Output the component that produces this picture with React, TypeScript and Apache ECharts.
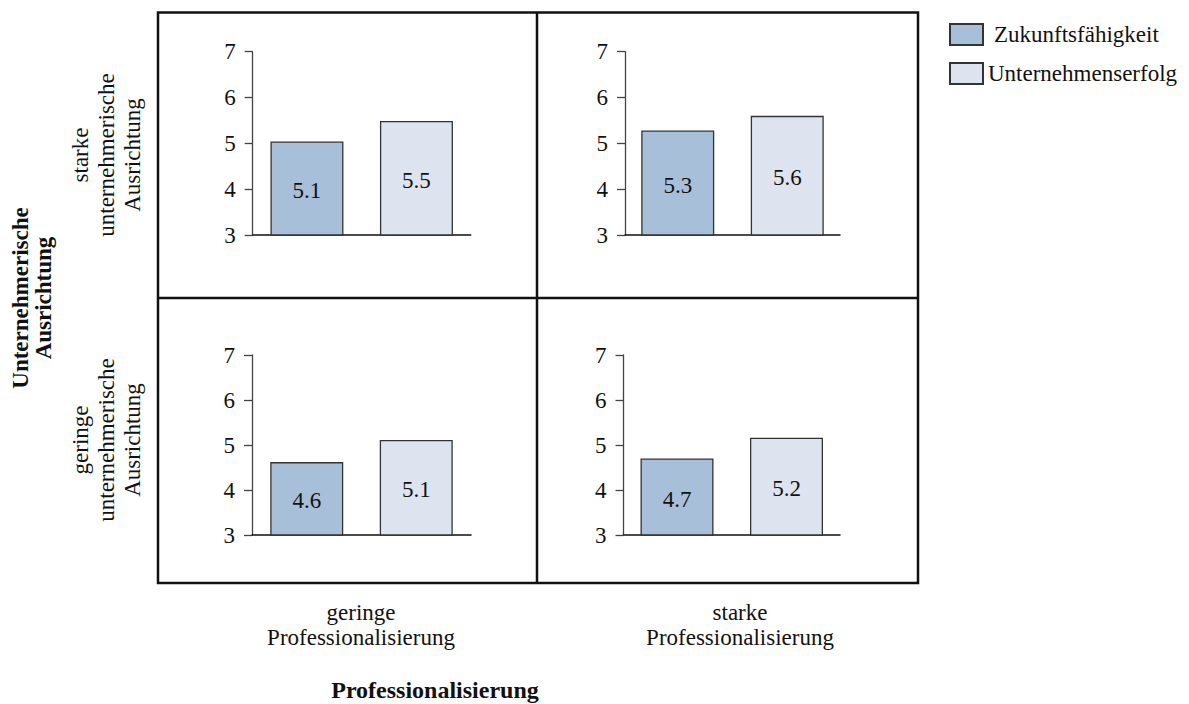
import React, { useEffect, useRef } from "react";
import * as echarts from "echarts";

// Panels: top-left, top-right, bottom-left, bottom-right
const seriesNames = ["Zukunftsfähigkeit", "Unternehmenserfolg"];
const zukunftValues = [5.04, 5.28, 4.62, 4.7];
const erfolgValues = [5.49, 5.6, 5.11, 5.16];
const zukunftLabels = ["5.1", "5.3", "4.6", "4.7"];
const erfolgLabels = ["5.5", "5.6", "5.1", "5.2"];
const yMin = 3;
const yMax = 7;
const yInterval = 1;
const rowLabels = ["starke\nunternehmerische\nAusrichtung", "geringe\nunternehmerische\nAusrichtung"];
const colLabels = ["geringe\nProfessionalisierung", "starke\nProfessionalisierung"];
const rowTitle = "Unternehmerische\nAusrichtung";
const colTitle = "Professionalisierung";

const FONT = "'Liberation Serif', 'Times New Roman', serif";
const FS = 23;
const DARK = "#a7bfd9";
const LIGHT = "#dee4ef";
const BORDER = "#333333";

const grids = [
  { left: 252.7, top: 51.7, width: 218, height: 183.3 },
  { left: 625, top: 51.7, width: 215, height: 183.3 },
  { left: 252, top: 355, width: 219, height: 180 },
  { left: 623.5, top: 355, width: 216.5, height: 180 },
];

export default function App() {
  const ref = useRef<HTMLDivElement>(null);
  useEffect(() => {
    if (!ref.current) return;
    const chart = echarts.init(ref.current, null, { renderer: "svg" });
    const xAxis: any[] = [];
    const yAxis: any[] = [];
    const series: any[] = [];
    grids.forEach((g, i) => {
      xAxis.push({
        type: "category",
        gridIndex: i,
        data: [""],
        axisLine: { show: true, lineStyle: { color: "#111", width: 1.5 } },
        axisTick: { show: false },
        axisLabel: { show: false },
      });
      yAxis.push({
        type: "value",
        gridIndex: i,
        min: yMin,
        max: yMax,
        interval: yInterval,
        splitLine: { show: false },
        axisLine: { show: true, lineStyle: { color: "#444", width: 1.3 } },
        axisTick: { show: true, length: 8, lineStyle: { color: "#444", width: 1.3 } },
        axisLabel: { margin: 17, fontFamily: FONT, fontSize: FS, color: "#111" },
      });
      [zukunftValues, erfolgValues].forEach((vals, s) => {
        const lbls = s === 0 ? zukunftLabels : erfolgLabels;
        series.push({
          type: "bar",
          name: seriesNames[s],
          xAxisIndex: i,
          yAxisIndex: i,
          data: [vals[i]],
          barWidth: 73,
          barGap: "50%",
          itemStyle: { color: s === 0 ? DARK : LIGHT, borderColor: BORDER, borderWidth: 1.3 },
          label: {
            show: true,
            position: "inside",
            formatter: lbls[i],
            fontFamily: FONT,
            fontSize: FS,
            color: "#111",
            offset: [0, 2],
          },
        });
      });
    });

    const textBase = { fontFamily: FONT, fontSize: FS, fill: "#111", align: "center", verticalAlign: "middle" };

    chart.setOption({
      animation: false,
      backgroundColor: "#ffffff",
      grid: grids.map((g) => ({ ...g, containLabel: false })),
      xAxis,
      yAxis,
      series,
      legend: {
        orient: "vertical",
        left: 944,
        top: 18,
        itemWidth: 33,
        itemHeight: 21,
        itemGap: 16,
        icon: "rect",
        textStyle: { fontFamily: FONT, fontSize: FS, color: "#111" },
        data: [
          { name: seriesNames[0], textStyle: { padding: [0, 0, 0, 6] } },
          { name: seriesNames[1] },
        ],
      },
      graphic: [
        {
          type: "rect",
          shape: { x: 158, y: 12.5, width: 760, height: 570.5 },
          style: { fill: "none", stroke: "#111", lineWidth: 2.5 },
        },
        {
          type: "line",
          shape: { x1: 537, y1: 12.5, x2: 537, y2: 583 },
          style: { stroke: "#111", lineWidth: 2.5 },
        },
        {
          type: "line",
          shape: { x1: 158, y1: 298, x2: 918, y2: 298 },
          style: { stroke: "#111", lineWidth: 2.5 },
        },
        {
          type: "text",
          x: 106,
          y: 155,
          rotation: Math.PI / 2,
          style: { ...textBase, text: rowLabels[0], lineHeight: 26 },
        },
        {
          type: "text",
          x: 106,
          y: 440,
          rotation: Math.PI / 2,
          style: { ...textBase, text: rowLabels[1], lineHeight: 26 },
        },
        {
          type: "text",
          x: 32,
          y: 298,
          rotation: Math.PI / 2,
          style: { ...textBase, text: rowTitle, lineHeight: 23, fontWeight: "bold" },
        },
        {
          type: "text",
          x: 361,
          y: 625,
          style: { ...textBase, text: colLabels[0], lineHeight: 25 },
        },
        {
          type: "text",
          x: 740,
          y: 625,
          style: { ...textBase, text: colLabels[1], lineHeight: 25 },
        },
        {
          type: "text",
          x: 435,
          y: 690,
          style: { ...textBase, text: colTitle, fontWeight: "bold", fontSize: 24 },
        },
      ],
    });
    return () => chart.dispose();
  }, []);
  return (
    <div
      ref={ref}
      style={{ position: "fixed", left: 0, top: 0, width: 1189, height: 704, background: "#fff" }}
    />
  );
}
